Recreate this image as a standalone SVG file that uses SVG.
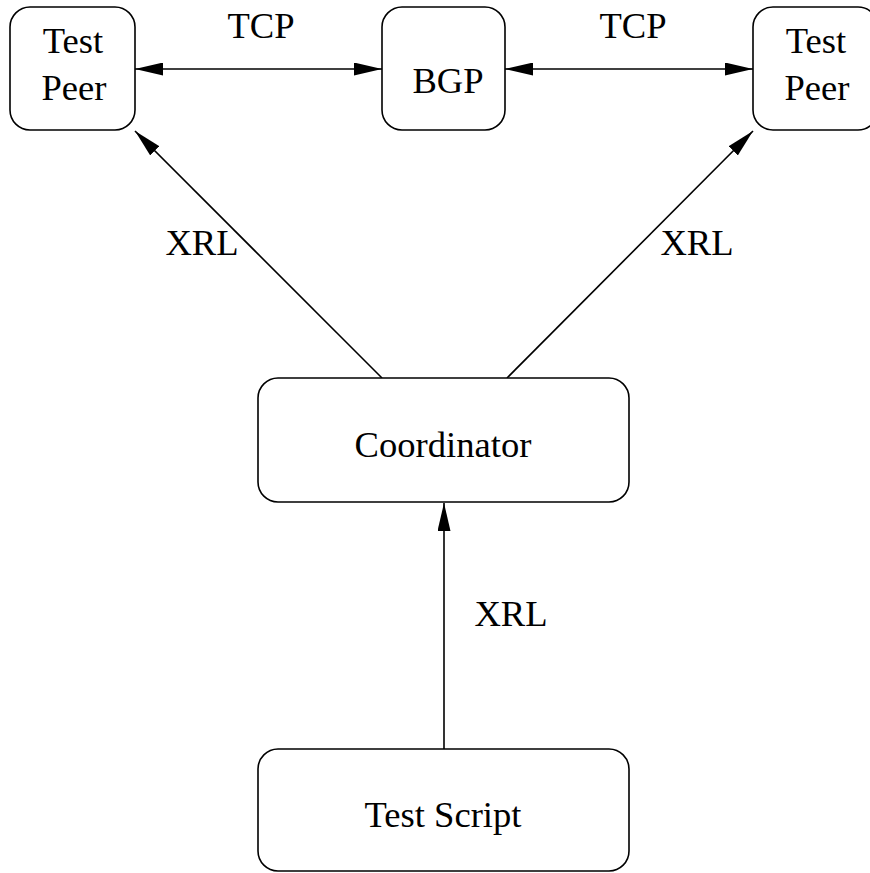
<svg xmlns="http://www.w3.org/2000/svg" width="870" height="873" viewBox="0 0 870 873">
<style>
.box{fill:#fff;stroke:#000;stroke-width:1.6}
.lbl{font-family:"Liberation Serif","Times New Roman",serif;font-size:36.6px;fill:#000;text-anchor:middle}
.edge{stroke:#000;stroke-width:1.6;fill:none}
</style>
<defs>
<marker id="ah" viewBox="0 0 28 13" refX="28" refY="6.5" markerWidth="28" markerHeight="13" markerUnits="userSpaceOnUse" orient="auto-start-reverse">
<path d="M0,0 L28,6.5 L0,13 Z" fill="#000"/>
</marker>
</defs>
<rect width="870" height="873" fill="#fff"/>
<g id="connectors">
<line class="edge" x1="135" y1="69" x2="382" y2="69" marker-start="url(#ah)" marker-end="url(#ah)"/>
<line class="edge" x1="505" y1="69" x2="753" y2="69" marker-start="url(#ah)" marker-end="url(#ah)"/>
<line class="edge" x1="382" y1="378" x2="135" y2="131" marker-end="url(#ah)"/>
<line class="edge" x1="507" y1="378" x2="753" y2="131" marker-end="url(#ah)"/>
<line class="edge" x1="444" y1="749" x2="444" y2="503" marker-end="url(#ah)"/>
<text class="lbl" x="261" y="38">TCP</text>
<text class="lbl" x="633" y="38">TCP</text>
<text class="lbl" x="202" y="255">XRL</text>
<text class="lbl" x="697" y="255">XRL</text>
<text class="lbl" x="511" y="626">XRL</text>
</g>
<g id="testpeer-left">
<rect class="box" x="10" y="7" width="125" height="123" rx="20"/>
<text class="lbl" x="73" y="53">Test</text>
<text class="lbl" x="74" y="100">Peer</text>
</g>
<g id="bgp">
<rect class="box" x="382" y="7" width="123" height="123" rx="20"/>
<text class="lbl" x="448" y="93">BGP</text>
</g>
<g id="testpeer-right">
<rect class="box" x="753" y="7" width="125" height="123" rx="20"/>
<text class="lbl" x="816" y="53">Test</text>
<text class="lbl" x="817" y="100">Peer</text>
</g>
<g id="coordinator">
<rect class="box" x="258" y="378" width="371" height="124" rx="20"/>
<text class="lbl" x="443" y="457">Coordinator</text>
</g>
<g id="testscript">
<rect class="box" x="258" y="749" width="371" height="122" rx="20"/>
<text class="lbl" x="443" y="827">Test Script</text>
</g>
</svg>
